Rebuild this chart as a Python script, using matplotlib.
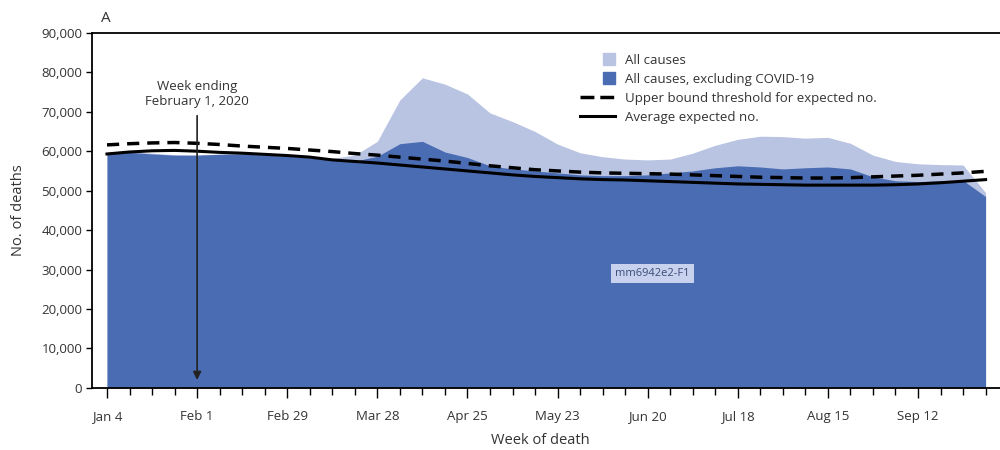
import matplotlib
matplotlib.use("Agg")
import matplotlib.pyplot as plt
import matplotlib.patches as mpatches
from matplotlib.lines import Line2D
from matplotlib.legend_handler import HandlerPatch
from matplotlib.ticker import FuncFormatter, MultipleLocator

plt.rcParams['font.family'] = ['Open Sans', 'DejaVu Sans']

# weeks since Jan 4, 2020 (week ending dates)
weeks = list(range(40))
tick_weeks = [0, 4, 8, 12, 16, 20, 24, 28, 32, 36]
tick_labels = ['Jan 4', 'Feb 1', 'Feb 29', 'Mar 28', 'Apr 25', 'May 23',
               'Jun 20', 'Jul 18', 'Aug 15', 'Sep 12']

all_causes = [59.3, 59.9, 59.5, 59.1, 59.0, 59.3, 59.4, 59.1, 58.8, 58.5,
              58.2, 59.0, 62.5, 73.0, 78.6, 77.0, 74.5, 69.7, 67.5, 65.0,
              61.8, 59.6, 58.6, 58.0, 57.8, 58.0, 59.5, 61.5, 63.0, 63.8,
              63.7, 63.3, 63.5, 62.0, 59.0, 57.4, 56.8, 56.6, 56.5, 49.5]
excl_covid = [59.2, 59.7, 59.3, 59.0, 59.0, 59.2, 59.3, 59.0, 58.7, 58.3,
              57.8, 57.5, 58.7, 61.9, 62.5, 59.8, 58.4, 56.3, 55.5, 55.0,
              54.5, 54.0, 53.8, 53.8, 54.0, 54.5, 55.0, 55.8, 56.3, 56.0,
              55.5, 55.8, 56.0, 55.5, 53.5, 52.5, 52.3, 52.5, 52.6, 48.5]
upper_bound = [61.6, 61.9, 62.1, 62.2, 62.0, 61.7, 61.3, 61.0, 60.7, 60.3,
               59.9, 59.4, 59.0, 58.5, 58.0, 57.5, 56.9, 56.3, 55.8, 55.3,
               55.0, 54.7, 54.5, 54.4, 54.3, 54.2, 54.0, 53.8, 53.6, 53.4,
               53.3, 53.2, 53.2, 53.3, 53.5, 53.7, 53.9, 54.2, 54.5, 54.9]
avg_expected = [59.3, 59.8, 60.1, 60.2, 60.0, 59.7, 59.5, 59.2, 58.9, 58.5,
                57.8, 57.4, 57.0, 56.5, 56.0, 55.5, 55.0, 54.5, 54.0, 53.6,
                53.3, 53.0, 52.8, 52.7, 52.5, 52.3, 52.1, 51.9, 51.7, 51.6,
                51.5, 51.4, 51.4, 51.4, 51.4, 51.5, 51.7, 52.0, 52.4, 52.8]

# values read in thousands
all_causes = [v * 1000 for v in all_causes]
excl_covid = [v * 1000 for v in excl_covid]
upper_bound = [v * 1000 for v in upper_bound]
avg_expected = [v * 1000 for v in avg_expected]

light = '#b9c3e2'
dark = '#4a6cb3'
txt = '#333333'

fig = plt.figure(figsize=(10, 4.5), dpi=100)
ax = fig.add_axes([0.092, 0.138, 0.908, 0.789])

ax.fill_between(weeks, all_causes, color=light, lw=0)
ax.fill_between(weeks, excl_covid, color=dark, lw=0)
ax.plot(weeks, upper_bound, color='black', lw=2.5, linestyle=(0, (3.5, 2.3)))
ax.plot(weeks, avg_expected, color='black', lw=2.2)

ax.set_xlim(-0.666, 39.64)
ax.set_ylim(0, 90000)

ax.set_xticks(tick_weeks)
ax.set_xticklabels(tick_labels)
ax.xaxis.set_minor_locator(MultipleLocator(1))
ax.set_yticks(range(0, 90001, 10000))
ax.yaxis.set_major_formatter(FuncFormatter(lambda v, p: f'{int(v):,}'))

ax.tick_params(axis='x', which='major', length=7, width=1, pad=9,
               labelsize=9.5, labelcolor=txt)
ax.tick_params(axis='x', which='minor', length=5, width=1)
ax.tick_params(axis='y', length=4, width=1, pad=3, labelsize=9.5,
               labelcolor=txt)

for s in ['left', 'bottom', 'top']:
    ax.spines[s].set_linewidth(1.3)
ax.spines['right'].set_visible(False)

# annotation for Feb 1
ax.annotate('', xy=(4, 2000), xytext=(4, 69000),
            arrowprops=dict(arrowstyle='-|>', color='#222222', lw=1.2,
                            mutation_scale=12, shrinkA=0, shrinkB=0))
ax.text(4, 74500, 'Week ending\nFebruary 1, 2020', ha='center', va='center',
        fontsize=9.5, color=txt, linespacing=1.25)

# watermark label
ax.text(24.2, 29000, 'mm6942e2-F1', ha='center', va='center', fontsize=8,
        color='#3b4a78',
        bbox=dict(facecolor='#c8d2ee', edgecolor='none', pad=3))


def square_patch(legend, orig_handle, xdescent, ydescent, width, height, fontsize):
    s = height * 1.3
    return mpatches.Rectangle((-xdescent + width - s, -ydescent + (height - s) / 2), s, s)


handles = [
    mpatches.Patch(color=light, label='All causes'),
    mpatches.Patch(color=dark, label='All causes, excluding COVID-19'),
    Line2D([], [], color='black', lw=2.5, linestyle=(0, (4.0, 1.7)),
           label='Upper bound threshold for expected no.'),
    Line2D([], [], color='black', lw=2.2, label='Average expected no.'),
]
leg = ax.legend(handles=handles, loc='upper left', bbox_to_anchor=(0.532, 0.955),
                frameon=False, fontsize=9.5, handlelength=2.6, handletextpad=0.75,
                labelspacing=0.45, borderaxespad=0,
                handler_map={mpatches.Patch: HandlerPatch(patch_func=square_patch)})
for t in leg.get_texts():
    t.set_color(txt)

fig.text(0.101, 0.958, 'A', fontsize=11, color=txt, ha='left', va='center')
fig.text(0.019, 0.533, 'No. of deaths', rotation=90, fontsize=10.5, color=txt,
         ha='center', va='center')
fig.text(0.54, 0.022, 'Week of death', fontsize=10.5, color=txt,
         ha='center', va='center')

fig.savefig('out.png', dpi=100)
